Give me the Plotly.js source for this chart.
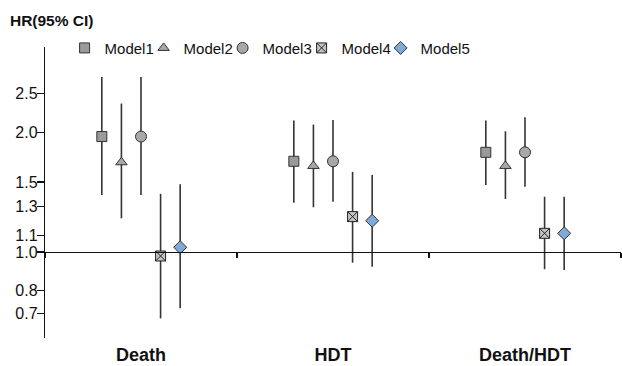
<!DOCTYPE html>
<html>
<head>
<meta charset="utf-8">
<script src="https://cdn.plot.ly/plotly-3.0.1.min.js"></script>
<style>html,body{margin:0;padding:0;background:#fff;}#chart{width:622px;height:366px;}</style>
</head>
<body>
<div id="chart"></div>
<script>
// Data
var categories = ['Death', 'HDT', 'Death/HDT'];
var models = ['Model1', 'Model2', 'Model3', 'Model4', 'Model5'];
var hr    = [[1.95, 1.69, 1.78], [1.68, 1.645, 1.645], [1.95, 1.69, 1.78], [0.977, 1.227, 1.114], [1.028, 1.198, 1.114]];
var upper = [[2.75, 2.14, 2.14], [2.36, 2.09, 2.01], [2.75, 2.145, 2.18], [1.40, 1.59, 1.377], [1.48, 1.56, 1.377]];
var lower = [[1.39, 1.33, 1.473], [1.215, 1.295, 1.359], [1.39, 1.338, 1.459], [0.681, 0.94, 0.905], [0.722, 0.918, 0.901]];
var yTickVals = [0.7, 0.8, 1.0, 1.1, 1.3, 1.5, 2.0, 2.5];
var yTickText = ['0.7', '0.8', '1.0', '1.1', '1.3', '1.5', '2.0', '2.5'];

var styles = [
  {symbol: 'square', color: '#9a9a9a', line: '#333333', size: 10},
  {symbol: 'triangle-up', color: '#a8a8a8', line: '#333333', size: 10},
  {symbol: 'circle', color: '#a8a8a8', line: '#333333', size: 11},
  {symbol: 'square-x', color: '#c4c4c4', line: '#222222', size: 10},
  {symbol: 'diamond', color: '#7fa9d6', line: '#333333', size: 10}
];

var traces = models.map(function (m, i) {
  var s = styles[i];
  return {
    type: 'scatter', mode: 'markers', name: m,
    x: categories, y: hr[i],
    offsetgroup: m,
    legendwidth: i === models.length - 1 ? 70 : 34,
    error_y: {
      type: 'data', symmetric: false,
      array: hr[i].map(function (v, j) { return upper[i][j] - v; }),
      arrayminus: hr[i].map(function (v, j) { return v - lower[i][j]; }),
      color: '#333333', thickness: 1.6, width: 0
    },
    marker: {symbol: s.symbol, color: s.color, size: s.size, line: {color: s.line, width: 1}},
    hoverinfo: 'x+y+name'
  };
});

var lo = -0.2161, hi = 0.515;
var layout = {
  width: 622, height: 366,
  margin: {l: 45, r: 1, t: 47, b: 28},
  paper_bgcolor: '#ffffff', plot_bgcolor: '#ffffff',
  font: {family: 'Liberation Sans, Arial, sans-serif', color: '#111111'},
  title: {text: '<b>HR(95% CI)</b>', font: {size: 15.5, color: '#111'}, x: 0.016, xanchor: 'left', xref: 'container', y: 0.943, yanchor: 'middle', yref: 'container'},
  scattermode: 'group', scattergap: 0.49,
  showlegend: true,
  legend: {orientation: 'h', x: 0.034, xanchor: 'left', xref: 'paper', y: 0.996, yanchor: 'middle', yref: 'paper',
           font: {size: 15, color: '#111'}, itemwidth: 30,
           traceorder: 'normal', bgcolor: 'rgba(0,0,0,0)'},
  xaxis: {
    type: 'category', categoryorder: 'array', categoryarray: categories,
    range: [-0.5, 2.5], anchor: 'free', position: -lo / (hi - lo),
    showline: true, linecolor: '#111', linewidth: 1.2,
    ticks: 'outside', tickson: 'boundaries', ticklen: 5, tickcolor: '#111', tickwidth: 1.2,
    showgrid: false, zeroline: false, automargin: false,
    tickfont: {size: 18, color: '#111', weight: 'bold'},
    ticklabelstandoff: 86
  },
  yaxis: {
    type: 'log', range: [lo, hi],
    tickvals: yTickVals, ticktext: yTickText,
    showline: true, linecolor: '#111', linewidth: 1.2,
    ticks: 'outside', ticklen: 7, tickcolor: '#111', tickwidth: 1.2,
    showgrid: false, zeroline: false, automargin: false,
    tickfont: {size: 16, color: '#111'},
    ticklabelstandoff: -4
  }
};

Plotly.newPlot('chart', traces, layout, {displayModeBar: false, staticPlot: true});
</script>
</body>
</html>
